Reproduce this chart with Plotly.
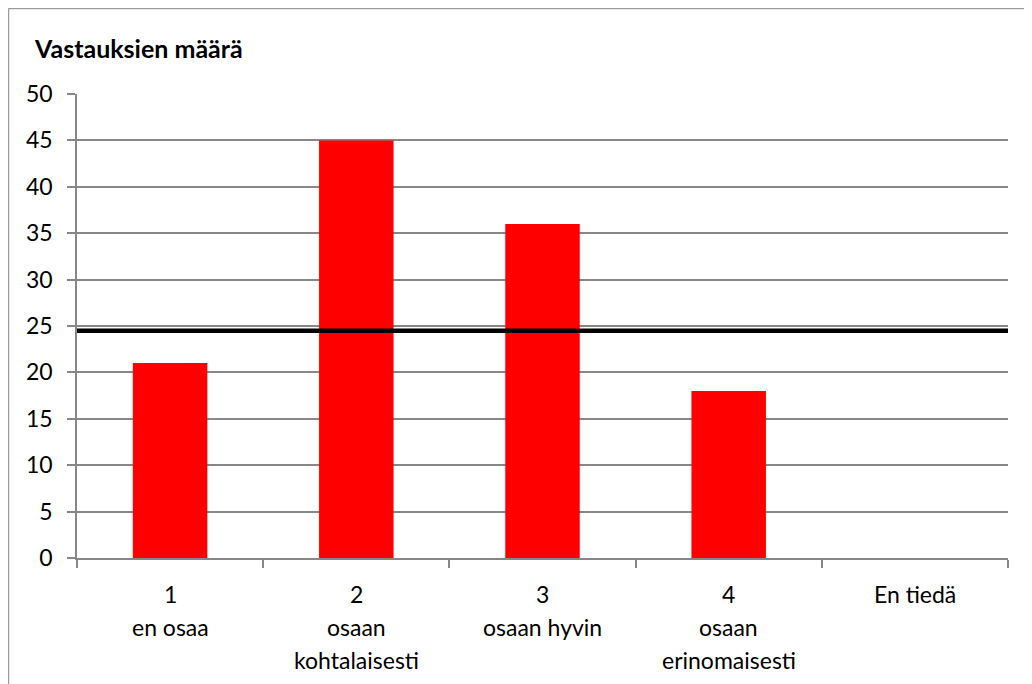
import plotly.graph_objects as go

categories = ["1", "2", "3", "4", "En tiedä"]
category_lines = [
    ["1", "en osaa"],
    ["2", "osaan", "kohtalaisesti"],
    ["3", "osaan hyvin"],
    ["4", "osaan", "erinomaisesti"],
    ["En tiedä"],
]
values = [21, 45, 36, 18, 0]
reference_value = 24.5
y_ticks = [0, 5, 10, 15, 20, 25, 30, 35, 40, 45, 50]
title_text = "Vastauksien määrä"

FONT = "Lato"
GRID = "#878787"

positions = list(range(len(categories)))

fig = go.Figure()
fig.add_trace(go.Bar(x=positions, y=values, marker=dict(color="#FF0000", line=dict(width=0)),
                     width=0.4, showlegend=False))
fig.add_trace(go.Scatter(x=[-0.5, len(categories) - 0.5], y=[reference_value, reference_value],
                         mode="lines", line=dict(color="black", width=4.5), showlegend=False))

boundaries = [p - 0.5 for p in positions] + [positions[-1] + 0.5]

fig.update_layout(
    width=1024, height=676,
    margin=dict(l=69, r=24, t=86, b=126),
    paper_bgcolor="white", plot_bgcolor="white",
    font=dict(family=FONT, size=23, color="black"),
    xaxis=dict(range=[-0.5, len(categories) - 0.5], tickvals=boundaries, showticklabels=False,
               ticks="outside", ticklen=8, tickcolor=GRID, tickwidth=1.5,
               showline=True, linecolor=GRID, linewidth=1.5, showgrid=False, zeroline=False),
    yaxis=dict(range=[0, 50], tickvals=y_ticks, ticks="outside", ticklen=8, tickcolor=GRID,
               tickwidth=1.5, showline=True, linecolor=GRID, linewidth=1.5,
               showgrid=True, gridcolor=GRID, gridwidth=1.5, zeroline=False,
               ticklabelstandoff=10,
               tickfont=dict(family=FONT, size=23)),
    bargap=0.6,
)

annotations = [dict(text="<b>" + title_text + "</b>", xref="paper", yref="paper",
                    x=-0.0483, y=1.0, yshift=46, xanchor="left", yanchor="middle",
                    showarrow=False, font=dict(family=FONT, size=25, color="black"))]
for pos, lines in zip(positions, category_lines):
    for i, line in enumerate(lines):
        annotations.append(dict(text=line, x=pos, xref="x", y=0, yref="paper",
                                yshift=-36 - 33 * i, xanchor="center", yanchor="middle",
                                showarrow=False, font=dict(family=FONT, size=23, color="black")))
fig.update_layout(annotations=annotations)

# chart-area border (left and top edges visible)
fig.add_shape(type="line", xref="paper", yref="paper", x0=-0.0736, x1=-0.0736, y0=-0.3, y1=1.184,
              line=dict(color="#9a9a9a", width=1.5))
fig.add_shape(type="line", xref="paper", yref="paper", x0=-0.0736, x1=1.05, y0=1.184, y1=1.184,
              line=dict(color="#9a9a9a", width=1.5))

fig.write_html("out.html")
